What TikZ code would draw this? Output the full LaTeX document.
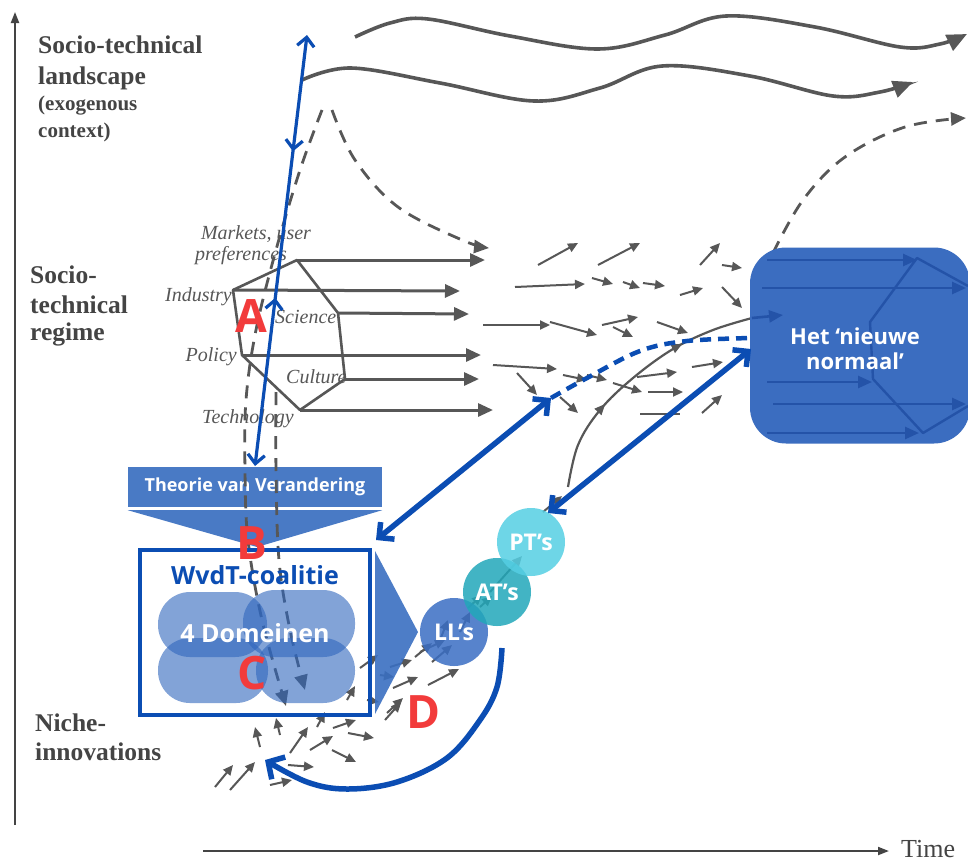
\documentclass[tikz,border=0pt]{standalone}
\usepackage{fontspec}
\setmainfont{Liberation Serif}
\newfontfamily\osans{Open Sans}
\usetikzlibrary{arrows.meta,decorations.markings}

\definecolor{ink}{HTML}{444444}
\definecolor{gline}{HTML}{575757}
\definecolor{deepblue}{HTML}{0B4DB3}
\definecolor{midblue}{HTML}{3A6FC1}
\definecolor{boxblue}{HTML}{3B6DC0}
\definecolor{darkline}{HTML}{2453A8}
\definecolor{pillblue}{HTML}{2F66BD}
\definecolor{llblue}{HTML}{3A6EC4}
\definecolor{atteal}{HTML}{22A8BA}
\definecolor{ptcyan}{HTML}{55CFE3}
\definecolor{letterred}{HTML}{F23B3B}

\tikzset{
  axisline/.style={draw=ink, line width=2, -{Triangle[length=11,width=8]}},
  levellabel/.style={anchor=base west, inner sep=0, text=ink, font=\bfseries\fontsize{25.5}{25.5}\selectfont},
  sublabel/.style={anchor=base west, inner sep=0, text=ink, font=\bfseries\fontsize{21}{21}\selectfont},
  dimlabel/.style={inner sep=0, text=gline, font=\itshape\fontsize{20}{20}\selectfont},
  waveline/.style={draw=gline, line width=3.6, -{Triangle[length=20,width=17]}},
  hexline/.style={draw=gline, line width=2.6, line join=round},
  hexarrow/.style={draw=gline, line width=3, -{Triangle[length=15,width=13]}},
  smallarrow/.style={draw=gline, line width=2, -{Triangle[length=10,width=9]}},
  innerarrow/.style={draw=darkline, line width=2.6, -{Triangle[length=14,width=12]}},
  landdash/.style={draw=gline, line width=2.8, dash pattern=on 13pt off 9pt, -{Triangle[length=15,width=13]}},
  bluethin/.style={draw=deepblue, line width=3.2, {Straight Barb[length=9,width=17]}-{Straight Barb[length=9,width=17]}},
  bluethick/.style={draw=deepblue, line width=5.5, {Straight Barb[length=11,width=22]}-{Straight Barb[length=11,width=22]}},
  whitetext/.style={text=white, font=\osans\bfseries\fontsize{#1}{#1}\selectfont, inner sep=0},
  redletter/.style={text=letterred, font=\osans\bfseries\fontsize{46}{46}\selectfont, inner sep=0},
  stage/.style={circle, minimum size=68, inner sep=0, fill opacity=0.85, text opacity=1,
    text=white, font=\osans\bfseries\fontsize{23}{23}\selectfont},
  pill/.style={fill=pillblue, fill opacity=0.6, rounded corners=32},
}

\begin{document}
\begin{tikzpicture}[x=1pt,y=-1pt]
\useasboundingbox (0,0) rectangle (968,863);
\fill[white] (0,0) rectangle (968,863);

% ---------- axes ----------
\coordinate (ybottom) at (15,825);
\coordinate (ytop) at (15,12);
\draw[axisline] (ybottom) -- (ytop);
\coordinate (xleft) at (203,851);
\node[anchor=west, inner sep=0, text=ink, font=\fontsize{26}{26}\selectfont] (time) at (901,849) {Time};
\draw[axisline] (xleft) -- ([xshift=-12pt,yshift=-2pt]time.west);

% ---------- level labels ----------
\node[levellabel] (land1) at (38,53) {Socio-technical};
\node[levellabel] (land2) at (38,84) {landscape};
\node[sublabel] (land3) at (38,110) {(exogenous};
\node[sublabel] (land4) at (38,137) {context)};
\node[levellabel] (reg1) at (30,283) {Socio-};
\node[levellabel] (reg2) at (30,313) {technical};
\node[levellabel] (reg3) at (30,340) {regime};
\node[levellabel] (niche1) at (35,731) {Niche-};
\node[levellabel] (niche2) at (35,760) {innovations};

% ---------- landscape waves ----------
\draw[waveline] plot[smooth, tension=0.6] coordinates
  {(355,37) (390,23) (428,19) (510,36) (598,49) (665,35) (726,16) (815,27) (900,47) (940,44) (967,34)};
\draw[waveline] plot[smooth, tension=0.6] coordinates
  {(302,80) (351,68) (440,83) (534,101) (600,88) (662,66) (750,76) (833,96) (880,92) (913,82)};

% landscape pressure (dashed)
\draw[landdash] plot[smooth, tension=0.6] coordinates
  {(332,110) (355,160) (398,207) (462,240) (489,248)};
\draw[landdash] plot[smooth, tension=0.6] coordinates
  {(773,253) (803,200) (845,157) (905,127) (966,118)};

% ---------- regime hexagon ----------
\coordinate (hm) at (297,260);
\coordinate (hi) at (233,290);
\coordinate (hp) at (242,355);
\coordinate (ht) at (300,410);
\coordinate (hc) at (345,379);
\coordinate (hs) at (338,313);
\draw[hexline] (hm) -- (hi) -- (hp) -- (ht) -- (hc) -- (hs) -- cycle;
\draw[hexarrow] (hm) -- (485,260);
\draw[hexarrow] (hi) -- (460,291);
\draw[hexarrow] (hs) -- (469,314);
\draw[hexarrow] (hp) -- (481,355);
\draw[hexarrow] (hc) -- (479,379);
\draw[hexarrow] (ht) -- (493,410);

\node[dimlabel] (lmarkets) at (256,234) {Markets, user};
\node[dimlabel] (lpref) at (241,256) {preferences};
\node[dimlabel, anchor=base east] (lind) at (232,301) {Industry};
\node[dimlabel, anchor=base west] (lsci) at (275,323) {Science};
\node[dimlabel, anchor=base east] (lpol) at (237,361) {Policy};
\node[dimlabel, anchor=base west] (lcul) at (286,383) {Culture};
\node[dimlabel, anchor=base west] (ltec) at (202,423) {Technology};

% ---------- regime turbulence ----------
\foreach \xa/\ya/\xb/\yb in {
  538/265/578/243, 598/265/640/243, 700/265/720/243, 722/265/742/268,
  515/287/585/284, 592/278/613/284, 623/282/640/288, 643/283/665/286,
  680/295/703/288, 722/287/742/308,
  483/325/550/325, 550/322/597/335, 602/325/638/317, 613/327/633/337, 657/322/688/333,
  493/365/557/369, 517/373/537/395, 563/375/587/380, 587/375/607/380, 613/383/642/392,
  637/377/677/372, 648/392/683/392, 692/367/723/362, 560/397/578/413, 702/413/722/395}
  \draw[smallarrow] (\xa,\ya) -- (\xb,\yb);
\draw[gline, line width=2] (640,414) -- (680,414);

% ---------- niche activity ----------
\foreach \xa/\ya/\xb/\yb in {
  215/787/233/765, 230/790/255/762, 260/747/255/727, 280/735/276/718,
  290/753/308/727, 317/727/325/712, 310/750/333/736, 333/728/356/720,
  348/733/374/738, 332/750/356/762, 288/765/314/767, 270/785/292/780,
  347/700/355/686, 360/668/378/655, 380/675/394/677, 393/688/418/677,
  385/720/401/702, 428/685/459/669, 420/652/445/640, 390/667/412/660,
  415/657/432/643, 387/713/403/698, 367/700/379/702,
  432/662/452/645, 440/640/448/620, 460/632/470/612, 468/608/482/595,
  480/607/492/596}
  \draw[smallarrow] (\xa,\ya) -- (\xb,\yb);
\draw[smallarrow] (490,592) -- (522,556);
\draw[smallarrow] (543,512) -- (562,496);

% breakthrough trajectory
\draw[gline, line width=2.2,
  decoration={markings,
    mark=at position 0.35 with {\arrow{Triangle[length=11,width=9]}},
    mark=at position 0.72 with {\arrow{Triangle[length=11,width=9]}}},
  postaction=decorate]
  plot[smooth, tension=0.6] coordinates
  {(568,487) (578,445) (600,410) (633,378) (673,349) (713,330) (752,318)};

% ---------- theory of change banner ----------
\node[fill=midblue, fill opacity=0.92, text opacity=1, minimum width=254, minimum height=40,
  whitetext=18] (tvv) at (255,487) {Theorie van Verandering};
\fill[midblue, fill opacity=0.92] ([yshift=-3pt]tvv.south west) -- ([yshift=-3pt]tvv.south east)
  -- (257,547) -- cycle;

% landscape pressure reaching the niches
\draw[landdash] plot[smooth, tension=0.6] coordinates
  {(322,110) (300,170) (276,250) (256,330) (246,400) (245,470) (248,540) (262,620) (286,706)};
\draw[landdash] plot[smooth, tension=0.6] coordinates
  {(276,392) (276,470) (279,560) (290,630) (305,690)};

% ---------- coalition box ----------
\node[draw=deepblue, line width=3.5, minimum width=230, minimum height=165, inner sep=0] (wvdt) at (255,632.5) {};
\node[inner sep=0, text=deepblue, font=\osans\bfseries\fontsize{25}{25}\selectfont] (wvdttitle) at (255,575) {WvdT-coalitie};
\fill[pill] (158,592) rectangle (267,657);
\fill[pill] (243,590) rectangle (355,657);
\fill[pill] (158,638) rectangle (268,703);
\fill[pill] (256,638) rectangle (355,703);
\node[whitetext=25] (domeinen) at (255,633) {4 Domeinen};

% chevron towards the experiments
\fill[midblue, fill opacity=0.9] (375,551) -- (418,632) -- (375,714) -- cycle;

% ---------- experiments ----------
\node[stage, fill=llblue] (ll) at (454,632) {LL’s};
\node[stage, fill=atteal] (at) at (497,592) {AT’s};
\node[stage, fill=ptcyan] (pt) at (531,542) {PT’s};

% ---------- new regime ----------
\node[fill=boxblue, rounded corners=36, minimum width=220, minimum height=196, inner sep=0] (newnorm) at (860,345.5) {};
\draw[darkline, line width=2.4, line join=round] (968,286) -- (917,258) -- (870,322) -- (873,379) -- (923,433) -- (968,406);
\draw[innerarrow] (767,260) -- (917,260);
\draw[innerarrow] (762,288) -- (966,288);
\draw[innerarrow] (752,318) -- (783,315);
\draw[innerarrow] (767,382) -- (872,382);
\draw[innerarrow] (773,404) -- (966,404);
\draw[innerarrow] (767,433) -- (919,433);
\node[whitetext=22, align=center] (newtext) at (855,349) {Het ‘nieuwe\\[3pt]normaal’};

% ---------- links of the approach ----------
\coordinate (aTop) at (307,35);
\coordinate (aBot) at (255,466);
\draw[bluethin,
  decoration={markings,
    mark=at position 0.27 with {\arrow{Straight Barb[length=9,width=17]}},
    mark=at position 0.61 with {\arrowreversed{Straight Barb[length=9,width=17]}}},
  postaction=decorate] (aTop) -- (aBot);

\coordinate (bLow) at (376,540);
\coordinate (bHigh) at (551,398);
\draw[bluethick] (bLow) -- (bHigh);
\draw[deepblue, line width=4.5, dash pattern=on 11pt off 7pt] plot[smooth, tension=0.6] coordinates
  {(bHigh) (587,378) (640,351) (687,341) (752,338)};

\coordinate (cLow) at (548,513);
\coordinate (cHigh) at (751,349);
\draw[bluethick] (cLow) -- (cHigh);

\draw[deepblue, line width=5.5, -{Straight Barb[length=12,width=26]}] plot[smooth, tension=0.6] coordinates
  {(502,648) (497,687) (480,720) (447,758) (397,782) (347,789) (307,782) (265,760)};

% ---------- markers ----------
\node[redletter] (markA) at (251,316) {A};
\node[redletter] (markB) at (252,543) {B};
\node[redletter] (markC) at (252,673) {C};
\node[redletter] (markD) at (424,712) {D};
\end{tikzpicture}
\end{document}
